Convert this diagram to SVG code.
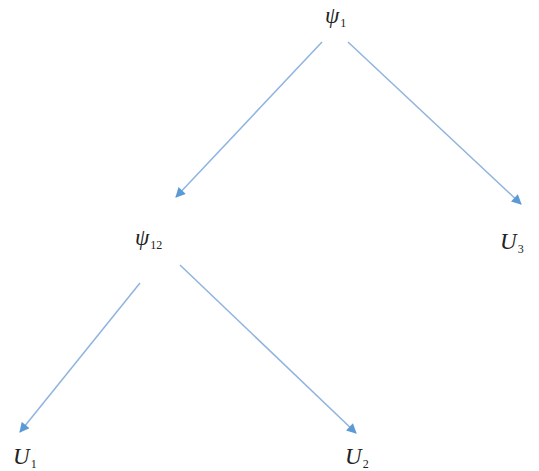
<svg xmlns="http://www.w3.org/2000/svg" width="539" height="471" viewBox="0 0 539 471">
<style>
.lbl{font-family:"Liberation Serif","Times New Roman",serif;font-style:italic;font-size:23px;fill:#222}
.sub{font-family:"Liberation Serif","Times New Roman",serif;font-style:normal;font-size:12px;fill:#222}
.edge{stroke:#8fb4de;stroke-width:1.5;fill:none;marker-end:url(#ah)}
</style>
<defs>
<marker id="ah" viewBox="0 0 10 10" refX="9" refY="5" markerWidth="11" markerHeight="10" orient="auto" markerUnits="userSpaceOnUse">
<path d="M0,0 L10,5 L0,10 z" fill="#5b9bd5"/>
</marker>
</defs>
<rect width="539" height="471" fill="#fff"/>
<g id="connectors">
<line class="edge" x1="322" y1="42" x2="176" y2="197"/>
<line class="edge" x1="348" y1="42" x2="521" y2="204"/>
<line class="edge" x1="140" y1="283" x2="20" y2="432"/>
<line class="edge" x1="180" y1="265" x2="356" y2="433"/>
</g>
<g id="psi1"><text class="lbl" x="325" y="23">ψ<tspan class="sub" dx="1" dy="4">1</tspan></text></g>
<g id="psi12"><text class="lbl" x="135" y="245">ψ<tspan class="sub" dx="1" dy="4">12</tspan></text></g>
<g id="U3"><text class="lbl" x="500" y="249">U<tspan class="sub" dx="1" dy="4">3</tspan></text></g>
<g id="U1"><text class="lbl" x="13" y="464">U<tspan class="sub" dx="1" dy="4">1</tspan></text></g>
<g id="U2"><text class="lbl" x="345" y="464">U<tspan class="sub" dx="1" dy="4">2</tspan></text></g>
</svg>
